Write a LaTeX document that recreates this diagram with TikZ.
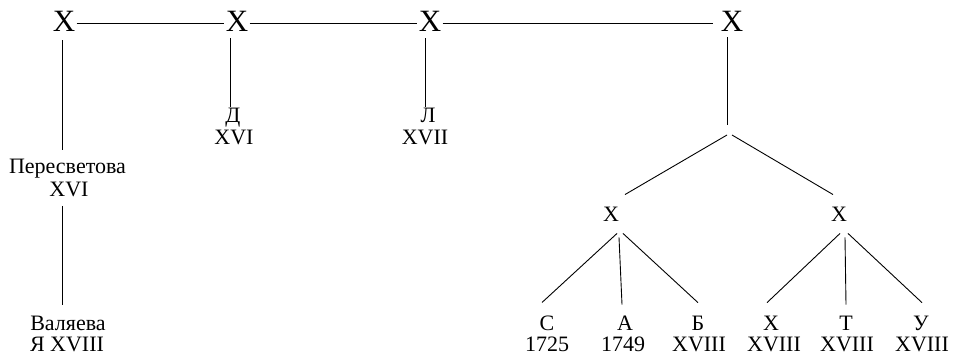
\documentclass[tikz,border=0pt]{standalone}
\usepackage{fontspec}
\setmainfont{Liberation Serif}
\usetikzlibrary{calc}
\begin{document}
\begin{tikzpicture}[x=1pt,y=-1pt,
  line width=0.9pt,
  bigx/.style={inner sep=0pt,anchor=base,font=\fontsize{31}{31}\selectfont},
  midx/.style={inner sep=0pt,anchor=base,font=\fontsize{22}{22}\selectfont},
  lbl/.style={inner sep=0pt,anchor=base,font=\fontsize{22}{22}\selectfont}]
\useasboundingbox (0,0) rectangle (963,355);

% top line of ancestors
\node[bigx] (x1) at (64,32) {X};
\node[bigx] (x2) at (237,32) {X};
\node[bigx] (x3) at (430,32) {X};
\node[bigx] (x4) at (732,32) {X};
\draw ($(x1.east)+(1,2)$) -- ($(x2.west)+(-1,2)$);
\draw ($(x2.east)+(1,2)$) -- ($(x3.west)+(-1,2)$);
\draw ($(x3.east)+(1,2)$) -- ($(x4.west)+(-7,2)$);

% first branch
\node[lbl] (p1) at (67.5,174) {Пересветова};
\node[lbl] (p2) at (69,197) {XVI};
\node[lbl] (v1) at (68,330) {Валяева};
\node[lbl] (v2) at (67,351) {Я XVIII};
\draw ($(x1.south)+(-2,8)$) -- ($(p1.north)+(-5.5,-9.6)$);
\draw ($(p2.south)+(-7,8)$) -- ($(v1.north)+(-6,-10.6)$);

% second and third branches
\node[lbl] (d1) at (233,123) {Д};
\node[lbl] (d2) at (234,145) {XVI};
\node[lbl] (l1) at (428,123) {Л};
\node[lbl] (l2) at (425,145) {XVII};
\draw ($(x2.south)+(-7,6)$) -- ($(d1.north)+(-3,-1.6)$);
\draw ($(x3.south)+(-5,6)$) -- ($(l1.north)+(-3,-1.6)$);

% fourth branch
\coordinate (fork) at (727,130);
\node[midx] (lx) at (611,222) {X};
\node[midx] (rx) at (839,222) {X};
\draw ($(x4.south)+(-5,5)$) -- ($(fork)+(0,-5)$);
\draw ($(fork)+(0,5)$) -- ($(lx.north)+(14,-12.6)$);
\draw ($(fork)+(5,5)$) -- ($(rx.north)+(-6,-12.6)$);

% copies
\node[lbl] (c1) at (547,330) {С};
\node[lbl] (c2) at (547,351) {1725};
\node[lbl] (a1) at (625,330) {А};
\node[lbl] (a2) at (623,351) {1749};
\node[lbl] (b1) at (698,330) {Б};
\node[lbl] (b2) at (699,351) {XVIII};
\node[lbl] (h1) at (771,330) {Х};
\node[lbl] (h2) at (774,351) {XVIII};
\node[lbl] (t1) at (846,330) {Т};
\node[lbl] (t2) at (847,351) {XVIII};
\node[lbl] (u1) at (921,330) {У};
\node[lbl] (u2) at (922,351) {XVIII};

\draw ($(lx.south)+(6,11)$) -- ($(c1.north)+(-5,-12.5)$);
\draw ($(lx.south)+(8,15)$) -- ($(a1.north)+(-3,-10.5)$);
\draw ($(lx.south)+(12,11)$) -- ($(b1.north)+(0,-12.5)$);
\draw ($(rx.south)+(1,11)$) -- ($(h1.north)+(-4,-12.5)$);
\draw ($(rx.south)+(6,15)$) -- ($(t1.north)+(0,-10.5)$);
\draw ($(rx.south)+(9,11)$) -- ($(u1.north)+(1,-12.5)$);
\end{tikzpicture}
\end{document}
